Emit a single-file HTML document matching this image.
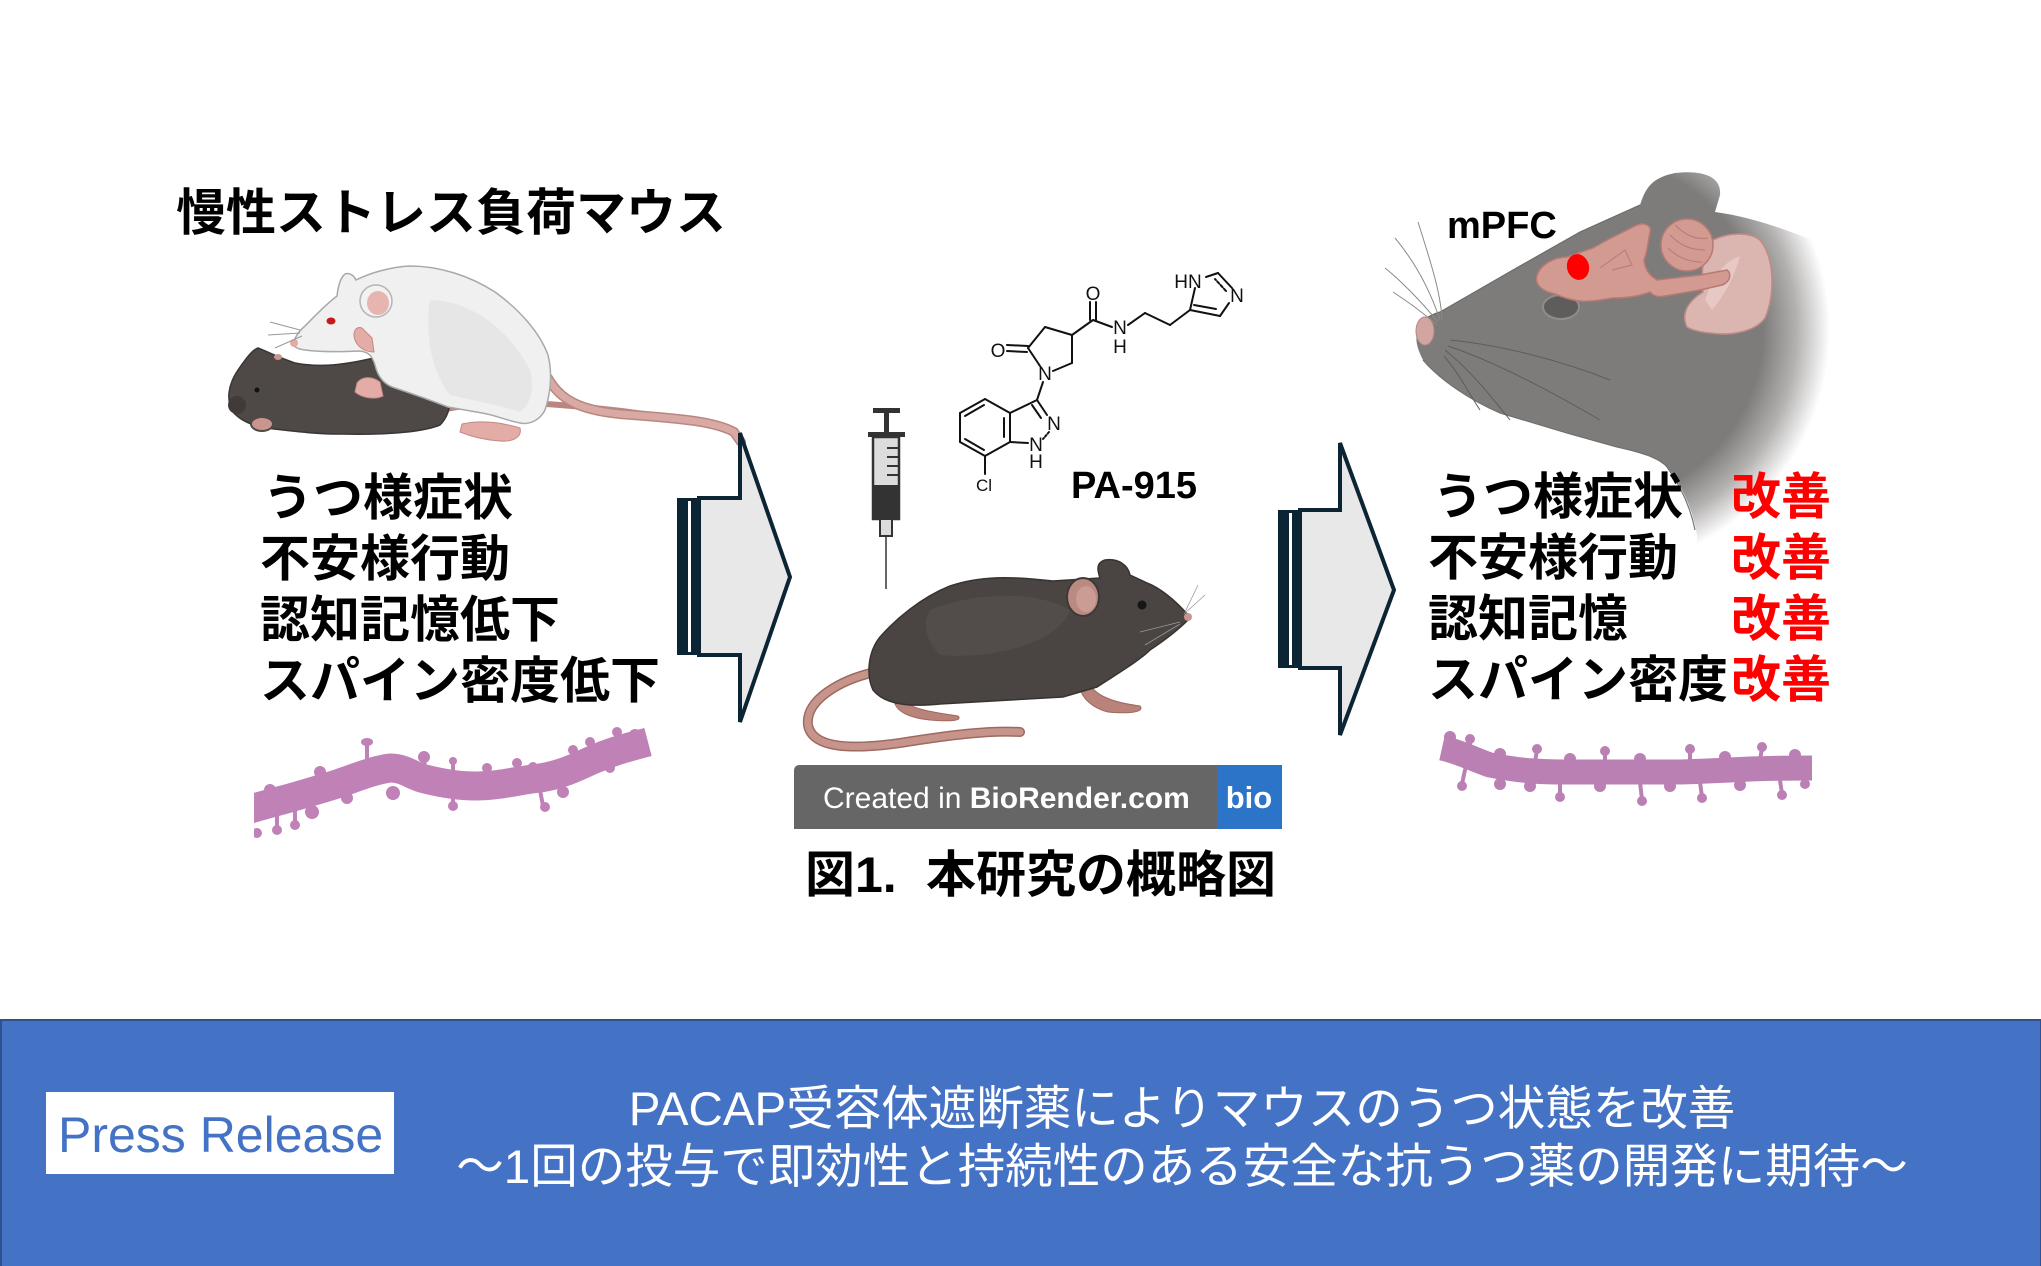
<!DOCTYPE html>
<html>
<head>
<meta charset="utf-8">
<style>
html,body{margin:0;padding:0;background:#fff;}
body{width:2041px;height:1266px;overflow:hidden;position:relative;}
svg{position:absolute;left:0;top:0;display:block;}
.jp{font-family:"Liberation Sans","Noto Sans CJK JP",sans-serif;}
</style>
</head>
<body>
<svg width="2041" height="1266" viewBox="0 0 2041 1266" xmlns="http://www.w3.org/2000/svg">
<defs>
  <radialGradient id="headg" gradientUnits="userSpaceOnUse" cx="1590" cy="330" r="240">
    <stop offset="0" stop-color="#7e7c7b"/>
    <stop offset="0.72" stop-color="#7e7c7b"/>
    <stop offset="0.86" stop-color="#b3b1b0"/>
    <stop offset="1" stop-color="#ffffff"/>
  </radialGradient>
  <clipPath id="ldclip"><rect x="254" y="690" width="400" height="160"/></clipPath>
</defs>

<rect x="0" y="0" width="2041" height="1266" fill="#ffffff"/>

<!-- ============ LEFT: title ============ -->
<text x="176" y="230" class="jp" font-size="50" font-weight="700" fill="#000">慢性ストレス負荷マウス</text>

<!-- rat tail & mouse tail -->
<path d="M440,410 C480,402 520,402 560,405 C600,408 630,412 660,416" fill="none" stroke="#b98680" stroke-width="6" stroke-linecap="round"/>
<path d="M548,378 C560,400 580,410 620,414 C670,418 712,420 734,432 L741,442" fill="none" stroke="#b98680" stroke-width="10" stroke-linecap="round"/>
<path d="M548,378 C560,400 580,410 620,414 C670,418 712,420 734,432 L741,442" fill="none" stroke="#d9aaa3" stroke-width="7" stroke-linecap="round"/>

<!-- black mouse lying -->
<path d="M233,412 C226,400 228,385 238,370 C245,360 252,350 258,348 C268,352 280,358 295,363 C320,368 345,365 378,357 C410,355 435,365 448,383 C452,400 450,415 440,425 C420,433 380,435 340,434 C310,434 285,430 265,428 C250,425 240,420 233,412 Z" fill="#4e4946" stroke="#3a3634" stroke-width="1.5"/>
<circle cx="237" cy="405" r="9" fill="#403b39"/>
<ellipse cx="262" cy="424" rx="11" ry="7" fill="#c9958e" stroke="#4e4946" stroke-width="2"/>
<circle cx="257" cy="390" r="2.5" fill="#111"/>
<ellipse cx="278" cy="357" rx="4" ry="3" fill="#c9958e"/>

<!-- white rat -->
<path d="M293,343 C296,335 300,330 305,326 C315,316 325,305 337,296 C338,287 340,278 345,274 C350,272 354,276 356,280 C370,273 390,267 410,266 C440,266 470,276 495,292 C520,310 540,333 548,355 C553,375 550,395 545,410 C540,420 530,425 520,423 C505,420 495,415 482,413 L448,407 C430,400 410,393 395,388 C385,385 378,378 375,365 C372,355 368,352 360,351 C340,352 320,352 305,350 C298,349 293,347 293,343 Z" fill="#f0f0f0" stroke="#a9a9a9" stroke-width="1.5"/>
<path d="M430,300 C470,300 510,330 530,370 C535,390 530,405 520,412 C500,405 470,400 450,395 C430,370 425,330 430,300 Z" fill="#e6e6e6"/>
<ellipse cx="376" cy="301" rx="16" ry="16" fill="#f2f2f2" stroke="#b5b5b5" stroke-width="1.5"/>
<ellipse cx="378" cy="303" rx="11" ry="12" fill="#e6b5b0"/>
<ellipse cx="331" cy="321" rx="4.5" ry="3.5" fill="#c41a1a"/>
<circle cx="294" cy="343" r="4" fill="#e6aaa5"/>
<path d="M300,330 L270,322 M300,333 L268,335 M302,336 L275,348" stroke="#999" stroke-width="1"/>
<!-- rat paws -->
<path d="M357,383 C362,376 372,376 380,382 L383,396 C375,400 362,398 355,392 Z" fill="#e3aca6" stroke="#c48882" stroke-width="1"/>
<path d="M355,340 C352,332 356,326 362,328 L372,338 L374,352 C366,352 358,348 355,340 Z" fill="#e3aca6" stroke="#c48882" stroke-width="1"/>
<path d="M462,424 C480,420 500,422 520,428 C522,436 515,442 500,441 C485,440 470,436 460,432 Z" fill="#e3aca6" stroke="#c48882" stroke-width="1"/>

<!-- left symptom text -->
<g class="jp" font-size="50" font-weight="700" fill="#000">
  <text x="263" y="515">うつ様症状</text>
  <text x="260" y="576">不安様行動</text>
  <text x="260" y="637">認知記憶低下</text>
  <text x="260" y="698">スパイン密度低下</text>
</g>

<!-- left dendrite -->
<g clip-path="url(#ldclip)" fill="#c081b6" stroke="#c081b6">
  <path d="M240,812 C260,806 275,802 290,798 C310,792 325,788 340,783 C360,776 375,770 390,768 C405,768 412,776 425,779 C445,784 460,786 475,786 C500,786 520,780 540,778 C560,775 575,768 590,761 C610,752 625,748 648,742" fill="none" stroke-width="29" stroke-linejoin="round"/>
  <g stroke-width="4" stroke-linecap="round">
    <line x1="367" y1="770" x2="367" y2="744"/>
    <line x1="425" y1="768" x2="424" y2="758"/>
    <line x1="453" y1="772" x2="453" y2="762"/>
    <line x1="487" y1="776" x2="487" y2="768"/>
    <line x1="517" y1="772" x2="517" y2="763"/>
    <line x1="573" y1="760" x2="573" y2="750"/>
    <line x1="617" y1="745" x2="617" y2="733"/>
    <line x1="277" y1="815" x2="277" y2="829"/>
    <line x1="295" y1="812" x2="295" y2="824"/>
    <line x1="453" y1="796" x2="453" y2="805"/>
    <line x1="540" y1="790" x2="543" y2="806"/>
  </g>
  <g stroke="none">
    <ellipse cx="367" cy="742" rx="6" ry="4"/>
    <circle cx="424" cy="757" r="6"/><circle cx="453" cy="761" r="4"/><circle cx="487" cy="768" r="5"/>
    <circle cx="517" cy="763" r="5"/><circle cx="533" cy="767" r="5"/><circle cx="573" cy="750" r="5"/>
    <circle cx="590" cy="742" r="5"/><circle cx="617" cy="732" r="5"/><circle cx="320" cy="772" r="6"/>
    <circle cx="270" cy="790" r="6"/><circle cx="635" cy="735" r="6"/>
    <circle cx="277" cy="830" r="5"/><circle cx="295" cy="825" r="5"/><circle cx="312" cy="812" r="7"/>
    <circle cx="347" cy="798" r="6"/><circle cx="393" cy="793" r="7"/><circle cx="453" cy="806" r="5"/>
    <circle cx="545" cy="807" r="5"/><circle cx="563" cy="792" r="6"/><circle cx="257" cy="833" r="5"/>
    <circle cx="610" cy="768" r="5"/>
  </g>
</g>

<!-- ============ LEFT ARROW ============ -->
<rect x="677" y="498" width="22" height="157" fill="#0b2535"/>
<rect x="688" y="501" width="3" height="151" fill="#ffffff"/>
<polygon points="699,498 740,498 740,433 790,577 740,722 740,655 699,655" fill="#e8e8e8" stroke="#0b2535" stroke-width="4" stroke-linejoin="miter"/>

<!-- ============ MIDDLE ============ -->
<!-- syringe -->
<g stroke="#333" fill="#333">
  <rect x="873" y="408" width="27" height="5" stroke="none"/>
  <rect x="884" y="412" width="5" height="22" stroke="none"/>
  <rect x="868" y="432" width="37" height="5" stroke="none"/>
  <rect x="873" y="437" width="26" height="82" fill="#dcdcdc" stroke-width="2.5"/>
  <rect x="874" y="485" width="24" height="33" stroke="none"/>
  <g stroke-width="2"><line x1="887" y1="448" x2="898" y2="448"/><line x1="887" y1="457" x2="898" y2="457"/><line x1="887" y1="466" x2="898" y2="466"/><line x1="887" y1="475" x2="898" y2="475"/></g>
  <rect x="880" y="519" width="12" height="17" fill="#dcdcdc" stroke-width="2"/>
  <line x1="886" y1="536" x2="886" y2="589" stroke-width="1.5"/>
</g>

<!-- chemical structure PA-915 -->
<g stroke="#111" stroke-width="2" fill="none" stroke-linecap="round">
  <line x1="1040" y1="366" x2="1028" y2="348"/>
  <line x1="1028" y1="348" x2="1045" y2="327"/>
  <line x1="1045" y1="327" x2="1072" y2="335"/>
  <line x1="1072" y1="335" x2="1072" y2="363"/>
  <line x1="1072" y1="363" x2="1053" y2="371"/>
  <line x1="1007" y1="345" x2="1028" y2="346"/>
  <line x1="1007" y1="351" x2="1027" y2="352"/>
  <line x1="1072" y1="335" x2="1093" y2="320"/>
  <line x1="1090" y1="320" x2="1090" y2="302"/>
  <line x1="1096" y1="320" x2="1096" y2="302"/>
  <line x1="1093" y1="320" x2="1112" y2="327"/>
  <line x1="1128" y1="325" x2="1145" y2="313"/>
  <line x1="1145" y1="313" x2="1170" y2="325"/>
  <line x1="1170" y1="325" x2="1190" y2="310"/>
  <line x1="1190" y1="310" x2="1220" y2="316"/>
  <line x1="1194" y1="305" x2="1216" y2="309"/>
  <line x1="1220" y1="316" x2="1229" y2="303"/>
  <line x1="1232" y1="288" x2="1218" y2="273"/>
  <line x1="1226" y1="291" x2="1215" y2="279" stroke-dasharray="3 2"/>
  <line x1="1218" y1="273" x2="1206" y2="277"/>
  <line x1="1195" y1="288" x2="1190" y2="310"/>
  <line x1="1043" y1="382" x2="1037" y2="400"/>
  <line x1="1037" y1="400" x2="1047" y2="415"/>
  <line x1="1032" y1="405" x2="1041" y2="418"/>
  <line x1="1049" y1="432" x2="1043" y2="439" stroke-dasharray="2 2"/>
  <line x1="1028" y1="443" x2="1010" y2="442"/>
  <line x1="1010" y1="442" x2="1010" y2="413"/>
  <line x1="1010" y1="413" x2="1037" y2="400"/>
  <line x1="1010" y1="413" x2="985" y2="399"/>
  <line x1="985" y1="399" x2="960" y2="413"/>
  <line x1="984" y1="405" x2="965" y2="416"/>
  <line x1="960" y1="413" x2="960" y2="442"/>
  <line x1="960" y1="442" x2="985" y2="456"/>
  <line x1="965" y1="439" x2="984" y2="450"/>
  <line x1="985" y1="456" x2="1010" y2="442"/>
  <line x1="1004" y1="418" x2="1004" y2="437"/>
  <line x1="985" y1="456" x2="985" y2="474"/>
</g>
<g font-family="Liberation Sans, sans-serif" font-size="19" fill="#111" text-anchor="middle">
  <text x="1093" y="300">O</text>
  <text x="1188" y="288">HN</text>
  <text x="1237" y="302">N</text>
  <text x="1120" y="334">N</text>
  <text x="1120" y="353">H</text>
  <text x="998" y="357">O</text>
  <text x="1045" y="380">N</text>
  <text x="1054" y="430">N</text>
  <text x="1036" y="451">N</text>
  <text x="1036" y="468">H</text>
  <text x="984" y="491" font-size="17">Cl</text>
</g>
<text x="1071" y="498" font-family="Liberation Sans, sans-serif" font-size="38" font-weight="700" fill="#000">PA-915</text>

<!-- middle mouse -->
<path d="M875,672 C840,680 805,700 808,725 C812,748 850,750 900,743 C950,735 990,730 1020,732" fill="none" stroke="#9c6a60" stroke-width="10" stroke-linecap="round"/>
<path d="M875,672 C840,680 805,700 808,725 C812,748 850,750 900,743 C950,735 990,730 1020,732" fill="none" stroke="#c6948a" stroke-width="7" stroke-linecap="round"/>
<path d="M902,697 C905,708 930,712 958,716 C962,720 955,722 930,720 C910,718 898,712 895,704 Z" fill="#b98379" stroke="#9c6a60" stroke-width="1"/>
<path d="M1088,682 C1095,695 1110,702 1140,706 C1145,712 1130,714 1108,712 C1092,708 1082,698 1080,688 Z" fill="#b98379" stroke="#9c6a60" stroke-width="1"/>
<path d="M1188,615 C1175,600 1160,588 1147,583 L1130,575 C1128,565 1118,558 1105,560 C1095,563 1098,572 1100,578 L1053,581 C1010,576 980,576 950,586 C920,598 895,620 880,637 C868,652 866,675 873,690 C885,705 910,707 940,704 L1063,697 L1097,687 C1120,672 1140,660 1150,650 C1165,640 1180,628 1188,620 Z" fill="#4a4543" stroke="#383331" stroke-width="1.5"/>
<path d="M930,610 C980,590 1040,592 1070,610 C1060,640 1000,660 940,655 C925,640 922,622 930,610 Z" fill="#524c4a"/>
<ellipse cx="1083" cy="597" rx="16" ry="19" fill="#b98a80" stroke="#3e3937" stroke-width="2"/>
<ellipse cx="1086" cy="599" rx="10" ry="13" fill="#c99d93"/>
<circle cx="1142" cy="605" r="4.5" fill="#151515"/>
<circle cx="1188" cy="617" r="4" fill="#c99590"/>
<path d="M1185,612 L1198,585 M1184,614 L1205,595 M1180,622 L1140,632 M1180,624 L1145,645" stroke="#9a9a9a" stroke-width="0.8" fill="none"/>

<!-- BioRender badge -->
<path d="M800,765 L1217,765 L1217,829 L794,829 L794,771 Q794,765 800,765 Z" fill="#666666"/>
<rect x="1217" y="765" width="65" height="64" fill="#2b74c7"/>
<text x="823" y="808" font-family="Liberation Sans, sans-serif" font-size="30" fill="#ffffff">Created in <tspan font-weight="700">BioRender.com</tspan></text>
<text x="1249" y="808" font-family="Liberation Sans, sans-serif" font-size="31" font-weight="700" fill="#ffffff" text-anchor="middle">bio</text>

<!-- caption -->
<g class="jp" font-size="50" font-weight="700" fill="#000">
  <text x="805" y="892">図1.</text>
  <text x="926" y="892">本研究の概略図</text>
</g>

<!-- ============ RIGHT ARROW ============ -->
<rect x="1278" y="510" width="22" height="158" fill="#0b2535"/>
<rect x="1289" y="513" width="3" height="152" fill="#ffffff"/>
<polygon points="1300,510 1340,510 1340,443 1394,590 1340,735 1340,668 1300,668" fill="#e8e8e8" stroke="#0b2535" stroke-width="4"/>

<!-- ============ RIGHT: mouse head ============ -->
<path d="M1417,333 C1420,320 1430,315 1440,312 L1513,270 L1580,232 L1640,205 C1645,190 1650,178 1675,173 C1700,170 1722,175 1720,195 L1715,212 C1760,218 1800,235 1850,255 L1850,580 L1700,580 C1697,560 1697,545 1697,535 C1693,510 1682,485 1667,467 C1660,458 1640,452 1617,447 L1567,433 L1500,413 C1470,400 1440,380 1423,360 C1418,350 1415,342 1417,333 Z" fill="url(#headg)"/>
<path d="M1417,333 C1420,320 1430,315 1440,312 L1513,270 L1580,232 L1640,205" fill="none" stroke="#6d6b6a" stroke-width="1.2"/>
<path d="M1423,360 C1440,380 1470,400 1500,413 L1567,433 L1617,447 C1640,452 1660,458 1667,467 C1680,485 1690,505 1695,530" fill="none" stroke="#737170" stroke-width="1.2"/>
<!-- whiskers -->
<g stroke="#8a8a8a" stroke-width="1" fill="none">
  <path d="M1440,320 C1430,290 1415,262 1395,238"/>
  <path d="M1438,322 C1420,300 1400,280 1385,268"/>
  <path d="M1437,325 C1420,310 1405,300 1393,292"/>
  <path d="M1442,318 C1440,290 1430,260 1418,222"/>
</g>
<g stroke="#5f5d5c" stroke-width="1" fill="none">
  <path d="M1450,340 C1500,345 1560,360 1610,380"/>
  <path d="M1448,346 C1490,360 1540,385 1600,420"/>
  <path d="M1445,350 C1470,370 1490,395 1510,420"/>
  <path d="M1444,356 C1460,375 1470,395 1480,410"/>
</g>
<ellipse cx="1425" cy="331" rx="9" ry="14" fill="#d2a6a0" stroke="#b48883" stroke-width="1"/>
<ellipse cx="1561" cy="307" rx="18" ry="12" fill="#5f5d5c" stroke="#8f8d8c" stroke-width="2"/>
<!-- ear inner pink -->
<path d="M1687,327 C1680,312 1690,300 1703,292 C1700,270 1705,248 1713,240 C1730,232 1750,232 1760,240 C1775,258 1775,295 1765,318 C1755,332 1730,336 1710,333 C1700,332 1692,330 1687,327 Z" fill="#dbb5b0" stroke="#c08b85" stroke-width="1.5"/>
<path d="M1705,300 C1712,280 1722,262 1740,256 C1735,275 1725,295 1712,310 Z" fill="#e7c8c4"/>
<!-- brain -->
<path d="M1540,287 C1533,280 1537,270 1547,263 C1555,258 1562,257 1567,257 L1593,248 C1600,244 1607,240 1613,237 L1637,225 C1645,222 1652,226 1650,232 C1648,240 1648,250 1644,260 C1645,270 1650,276 1657,280 L1700,275 L1727,270 C1732,274 1730,282 1722,285 L1700,290 L1665,296 C1655,298 1652,294 1650,292 C1640,296 1628,298 1613,298 C1600,300 1590,302 1580,301 C1570,300 1562,297 1555,294 C1550,293 1544,291 1540,287 Z" fill="#d39a92" stroke="#b67a73" stroke-width="1.5"/>
<circle cx="1687" cy="245" r="26" fill="#d39a92" stroke="#b67a73" stroke-width="1.5"/>
<g stroke="#b67a73" stroke-width="1" fill="none">
  <path d="M1670,235 C1680,245 1690,250 1705,250"/>
  <path d="M1675,225 C1685,235 1695,240 1708,238"/>
  <path d="M1668,248 C1678,258 1690,262 1702,262"/>
  <path d="M1600,268 L1625,250 L1632,265 L1612,270"/>
</g>
<ellipse cx="1578" cy="267" rx="11" ry="13" fill="#ff0000" transform="rotate(-15 1578 267)"/>
<text x="1447" y="238" font-family="Liberation Sans, sans-serif" font-size="38" font-weight="700" fill="#000">mPFC</text>

<!-- right text -->
<g class="jp" font-size="50" font-weight="700">
  <text x="1433" y="514" fill="#000">うつ様症状</text>
  <text x="1428" y="575" fill="#000">不安様行動</text>
  <text x="1428" y="636" fill="#000">認知記憶</text>
  <text x="1428" y="697" fill="#000">スパイン密度</text>
  <text x="1731" y="514" fill="#ff0000">改善</text>
  <text x="1731" y="575" fill="#ff0000">改善</text>
  <text x="1731" y="636" fill="#ff0000">改善</text>
  <text x="1731" y="697" fill="#ff0000">改善</text>
</g>

<!-- right dendrite -->
<g fill="#bb80b3" stroke="#bb80b3">
  <path d="M1442,748 C1460,752 1475,760 1490,765 C1520,771 1540,772 1566,772 C1600,772 1640,772 1681,772 C1710,771 1730,770 1750,769 C1780,768 1800,768 1812,768" fill="none" stroke-width="25" stroke-linecap="butt"/>
  <g stroke-width="4" stroke-linecap="round">
    <line x1="1470" y1="752" x2="1470" y2="740"/>
    <line x1="1535" y1="762" x2="1537" y2="750"/>
    <line x1="1605" y1="762" x2="1605" y2="752"/>
    <line x1="1690" y1="762" x2="1690" y2="750"/>
    <line x1="1760" y1="760" x2="1762" y2="748"/>
    <line x1="1465" y1="770" x2="1462" y2="784"/>
    <line x1="1560" y1="782" x2="1560" y2="796"/>
    <line x1="1640" y1="782" x2="1642" y2="800"/>
    <line x1="1700" y1="782" x2="1702" y2="797"/>
    <line x1="1780" y1="780" x2="1782" y2="794"/>
  </g>
  <g stroke="none">
    <circle cx="1450" cy="737" r="6"/><circle cx="1470" cy="739" r="5"/><circle cx="1500" cy="754" r="6"/>
    <circle cx="1537" cy="749" r="5"/><circle cx="1570" cy="759" r="6"/><circle cx="1605" cy="751" r="5"/>
    <circle cx="1640" cy="759" r="6"/><circle cx="1690" cy="749" r="5"/><circle cx="1725" cy="757" r="6"/>
    <circle cx="1762" cy="747" r="5"/><circle cx="1795" cy="755" r="6"/>
    <circle cx="1462" cy="786" r="5"/><circle cx="1500" cy="784" r="6"/><circle cx="1530" cy="786" r="6"/>
    <circle cx="1560" cy="797" r="5"/><circle cx="1600" cy="786" r="6"/><circle cx="1642" cy="801" r="5"/>
    <circle cx="1670" cy="786" r="6"/><circle cx="1702" cy="798" r="5"/><circle cx="1740" cy="785" r="6"/>
    <circle cx="1782" cy="795" r="5"/><circle cx="1805" cy="784" r="5"/>
  </g>
</g>

<!-- ============ BOTTOM BAND ============ -->
<rect x="1" y="1020" width="2040" height="247" fill="#4472c4" stroke="#2f528f" stroke-width="2"/>
<rect x="46" y="1092" width="348" height="82" fill="#ffffff"/>
<text x="58" y="1152" font-family="Liberation Sans, sans-serif" font-size="50" fill="#4472c4">Press Release</text>
<g class="jp" font-size="47.5" fill="#ffffff" text-anchor="middle">
  <text x="1182" y="1125">PACAP受容体遮断薬によりマウスのうつ状態を改善</text>
  <text x="1182" y="1183">～1回の投与で即効性と持続性のある安全な抗うつ薬の開発に期待～</text>
</g>
</svg>
</body>
</html>
